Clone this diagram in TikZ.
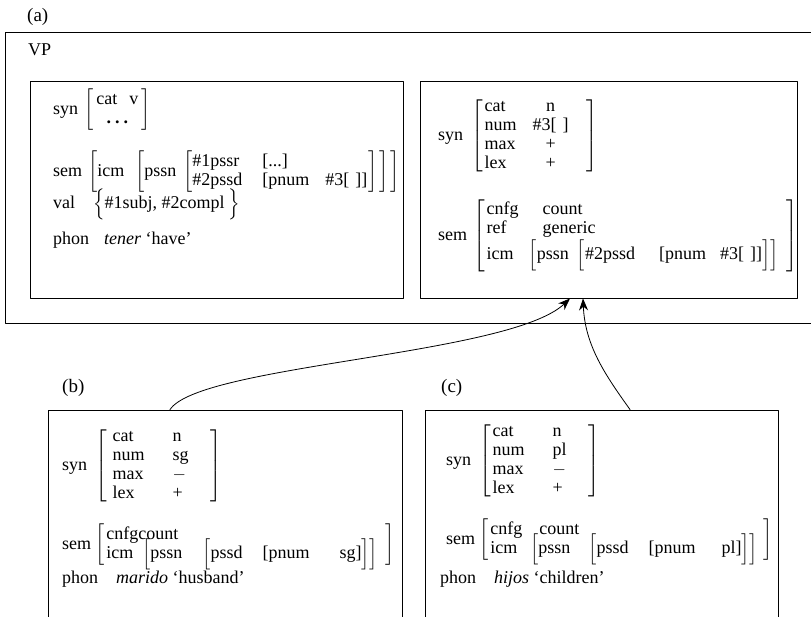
\documentclass[tikz,border=0pt]{standalone}
\usepackage{amsmath}
\usepackage{fontspec}
\setmainfont{Liberation Serif}
\usetikzlibrary{arrows.meta}
\usetikzlibrary{positioning}

% attribute-value matrix: column spec, rows
\newcommand{\avm}[2]{$\left[\begin{tabular}{#1}#2\end{tabular}\right]$}
% tall bracket that does not push the rows apart
\newcommand{\lbr}{\smash{$\Bigl[$}}
\newcommand{\rbr}{\smash{$\Bigr]$}}

\tikzset{
  panel/.style={draw, line width=0.9pt, inner sep=0pt},
  feat/.style={anchor=west, inner sep=0pt, font=\fontsize{18}{19}\selectfont},
  tag/.style={anchor=west, inner sep=0pt, font=\fontsize{19}{21}\selectfont},
}

\begin{document}
\begin{tikzpicture}[x=1pt,y=-1pt,line cap=round,line join=round,>={Stealth[length=12pt,width=9pt]}]
\clip (0,0) rectangle (811,617);
% frames
\node[panel, minimum width=815pt, minimum height=291pt] (vp) at (412.5,177.5) {};
\node[panel, minimum width=373pt, minimum height=217pt] (verb) at (216.5,189.5) {};
\node[panel, minimum width=377pt, minimum height=217pt] (noun) at (608.5,189.5) {};
\node[panel, minimum width=354pt, minimum height=240pt] (sgbox) at (225,530) {};
\node[panel, minimum width=353pt, minimum height=240pt] (plbox) at (601.5,530) {};
% labels
\node[tag] (lbla) at (27,17) {(a)};
\node[tag] (lblb) at (62,388) {(b)};
\node[tag] (lblc) at (441,388) {(c)};
\node[feat] (vplbl) at (28,50) {VP};
% verb: tener
\node[feat] (vsyn) at (53,110) {syn\hspace{6pt}\avm{@{\hspace{3pt}}c@{\hspace{3pt}}}{cat\hspace{12pt}v\\ \textbf{.\hspace{4pt}.\hspace{4pt}.}}};
\node[feat] (vsem) at (53,172) {sem\hspace{6pt}$\left[\mbox{icm\hspace{8pt}}\left[\mbox{pssn\hspace{4pt}}\left[\begin{tabular}{@{}l@{\hspace{20pt}}l@{\hspace{1pt}}}\#1pssr & [...]\\ \#2pssd & [pnum\hspace{16pt}\#3[\,\,]]\end{tabular}\right]\mkern2mu\right]\mkern2mu\right]$};
\node[feat] (vval) at (53,204) {val\hspace{18pt}$\Bigl\{$\#1subj, \#2compl\hspace{4pt}$\Bigr\}$};
\node[feat] (vphon) at (53,240) {phon\hspace{15pt}\textit{tener} ‘have’};
% noun in VP
\node[feat] (nsyn) at (438,136) {syn\hspace{8pt}\avm{@{\hspace{2pt}}l@{\hspace{16pt}}c@{\hspace{18pt}}}{cat & n\\ num & \#3[\,\,]\\ max & +\\ lex & +}};
\node[feat] (nsem) at (438,236) {sem\hspace{6pt}\avm{@{\hspace{2pt}}l@{\hspace{10pt}}l@{\hspace{8pt}}}{cnfg & \hspace{14pt}count\\ ref & \hspace{14pt}generic\\ icm & $\Bigl[$pssn\hspace{8pt}$\Bigl[$\#2pssd\hspace{24pt}[pnum\hspace{14pt}\#3[\,\,]]$\Bigr]\Bigr]$}};
% (b) marido
\node[feat] (bsyn) at (62,466) {syn\hspace{8pt}\avm{@{\hspace{6pt}}l@{\hspace{28pt}}l@{\hspace{22pt}}}{cat & n\\ num & sg\\ max & $-$\\ lex & +}};
\node[feat] (bsem) at (62,545) {sem\hspace{4pt}\avm{@{\hspace{2pt}}l@{}l@{\hspace{8pt}}}{cnfg & count\\ icm & \hspace{4pt}\lbr pssn\hspace{20pt}\lbr pssd\hspace{20pt}[pnum\hspace{30pt}sg]\rbr\rbr}};
\node[feat] (bphon) at (62,579) {phon\hspace{18pt}\textit{marido} ‘husband’};
% (c) hijos
\node[feat] (csyn) at (446,461) {syn\hspace{8pt}\avm{@{\hspace{2pt}}l@{\hspace{28pt}}l@{\hspace{22pt}}}{cat & n\\ num & pl\\ max & $-$\\ lex & +}};
\node[feat] (csem) at (446,540) {sem\hspace{4pt}\avm{@{\hspace{2pt}}l@{\hspace{8pt}}l@{\hspace{6pt}}}{cnfg & \hspace{9pt}count\\ icm & \lbr pssn\hspace{18pt}\lbr pssd\hspace{20pt}[pnum\hspace{26pt}pl]\rbr\rbr}};
\node[feat] (cphon) at (440,579) {phon\hspace{18pt}\textit{hijos} ‘children’};
% links
\draw[->, line width=0.8pt] ([xshift=-55pt]sgbox.north) .. controls +(30,-45) and +(-60,57) .. ([xshift=-38.5pt]noun.south);
\draw[->, line width=0.8pt] ([xshift=28.5pt]plbox.north) .. controls +(-25,-35) and +(2,47) .. ([xshift=-25.5pt]noun.south);
\end{tikzpicture}
\end{document}
